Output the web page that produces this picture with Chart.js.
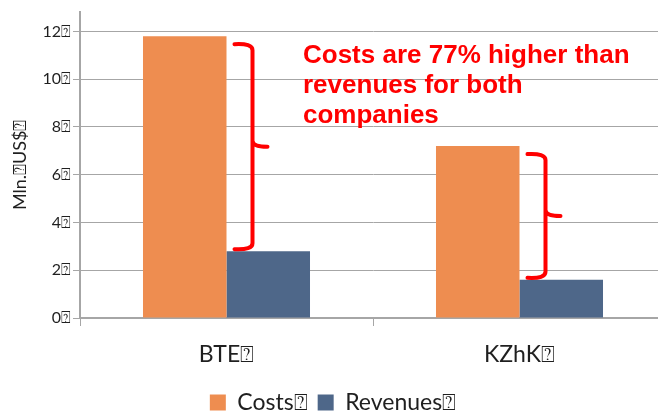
<!DOCTYPE html>
<html>
<head>
<meta charset="utf-8">
<script src="https://cdn.jsdelivr.net/npm/chart.js@4.4.1/dist/chart.umd.min.js"></script>
<style>
  html, body { margin: 0; padding: 0; background: #fff; overflow: hidden; }
  #wrap { width: 668px; height: 430px; }
</style>
</head>
<body>
<div id="wrap"><canvas id="chartCustos"></canvas></div>
<script>
// dados
const empresas = ['BTE\u2370', 'KZhK\u2370'];
const custos = [11.8, 7.2];
const receitas = [2.8, 1.6];
const ticksY = [0, 2, 4, 6, 8, 10, 12];
const nota = ['Costs are 77% higher than', 'revenues for both', 'companies'];

const cinza = '#a6a6a6';

/**
 * Desenha as chaves vermelhas entre custo e receita, e o texto da nota
 */
const pluginChaves = {
  id: 'chaves',
  afterDatasetsDraw(chart) {
    const ctx = chart.ctx;
    const metaC = chart.getDatasetMeta(0);
    const metaR = chart.getDatasetMeta(1);
    ctx.save();
    ctx.strokeStyle = '#ff0000';
    ctx.lineWidth = 4;
    ctx.lineCap = 'round';
    metaC.data.forEach((barC, i) => {
      const barR = metaR.data[i];
      const tipX = barC.x + barC.width / 2 + 8;
      const vx = tipX + 18;
      const px = vx + 15;
      const top = barC.y + 8;
      const bottom = barR.y - 2;
      const mid = (top + bottom) / 2;
      const r = 6;
      ctx.beginPath();
      ctx.moveTo(tipX, top);
      ctx.quadraticCurveTo(vx, top - 1, vx, top + r);
      ctx.lineTo(vx, mid - r);
      ctx.quadraticCurveTo(vx, mid, px, mid);
      ctx.moveTo(vx, mid - r);
      ctx.quadraticCurveTo(vx, mid, vx, mid + r);
      ctx.lineTo(vx, bottom - r);
      ctx.quadraticCurveTo(vx, bottom + 1, tipX, bottom);
      ctx.stroke();
    });

    // texto da nota
    const y = chart.scales.y;
    const x0 = chart.chartArea.left + 223;
    ctx.fillStyle = '#ff0000';
    ctx.font = 'bold 26px "Liberation Sans", Arial, sans-serif';
    ctx.textAlign = 'left';
    ctx.textBaseline = 'alphabetic';
    nota.forEach((linha, k) => {
      ctx.fillText(linha, x0, y.getPixelForValue(12) + 32 + k * 30);
    });
    ctx.restore();
  }
};

Chart.defaults.font.family = 'Lato, "Open Sans", sans-serif';
Chart.defaults.color = '#1f1f1f';

new Chart(document.getElementById('chartCustos'), {
  type: 'bar',
  data: {
    labels: empresas,
    datasets: [
      {
        label: 'Costs\u2370',
        data: custos,
        backgroundColor: '#ee8d50',
        borderWidth: 0
      },
      {
        label: 'Revenues\u2370',
        data: receitas,
        backgroundColor: '#4e6789',
        borderWidth: 0
      }
    ]
  },
  options: {
    responsive: true,
    maintainAspectRatio: false,
    animation: false,
    categoryPercentage: 0.57,
    barPercentage: 1,
    layout: { padding: { top: 9, left: 0, right: 2, bottom: 6 } },
    plugins: {
      tooltip: { enabled: false },
      legend: {
        position: 'bottom',
        labels: {
          boxWidth: 16,
          boxHeight: 16,
          padding: 10,
          font: { size: 23 },
          color: '#1f1f1f'
        }
      }
    },
    scales: {
      x: {
        grid: {
          offset: true,
          drawOnChartArea: false,
          drawTicks: true,
          tickLength: 8,
          color: cinza
        },
        border: { display: true, color: cinza, width: 2 },
        ticks: { font: { size: 23 }, padding: 15, color: '#1f1f1f' },
        afterFit(scale) { scale.height = 63; }
      },
      y: {
        min: 0,
        max: 12.83,
        afterBuildTicks(scale) {
          scale.ticks = ticksY.map(v => ({ value: v }));
        },
        grid: { color: cinza, lineWidth: 1, tickLength: 7, drawTicks: true },
        border: { display: true, color: cinza, width: 2 },
        ticks: {
          font: { size: 16 },
          padding: 2,
          color: '#1f1f1f',
          callback: v => v + '\u2370'
        },
        title: {
          display: true,
          text: 'Mln.\u2370US$\u2370',
          font: { size: 18 },
          color: '#1f1f1f',
          padding: { top: 9, bottom: 0 }
        },
        afterFit(scale) { scale.width = 80; }
      }
    }
  },
  plugins: [pluginChaves]
});
</script>
</body>
</html>
